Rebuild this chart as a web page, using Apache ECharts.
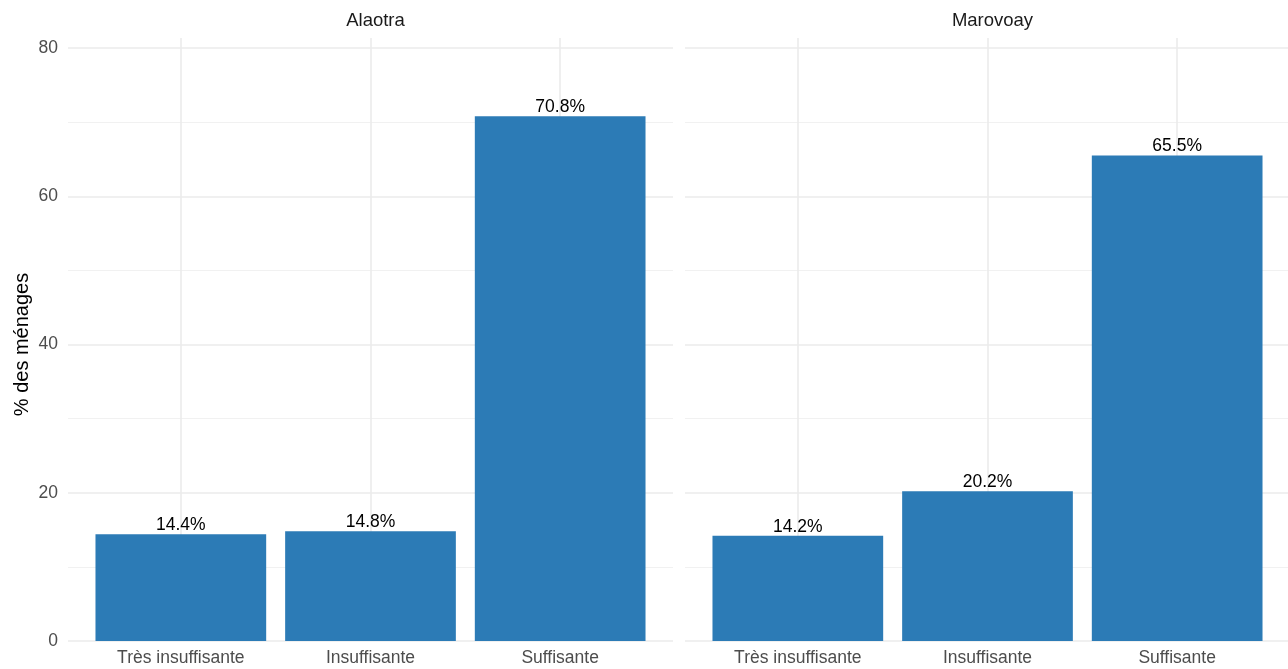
<!DOCTYPE html>
<html>
<head>
<meta charset="utf-8">
<script src="https://cdn.jsdelivr.net/npm/echarts@6/dist/echarts.min.js"></script>
<style>
  html, body { margin: 0; padding: 0; background: #fff; }
  #chart { width: 1288px; height: 669px; }
</style>
</head>
<body>
<div id="chart"></div>
<script>
(function(){
  'use strict';

  // donnees
  var categories = ['Très insuffisante', 'Insuffisante', 'Suffisante'];
  var panels = ['Alaotra', 'Marovoay'];
  var alaotraValues = [14.4, 14.8, 70.8];
  var marovoayValues = [14.2, 20.2, 65.5];
  var yTicks = [0, 20, 40, 60, 80];

  var barColor = '#2c7bb6';
  var gridColor = '#ebebeb';
  var font = 'Liberation Sans, Arial, sans-serif';

  // panel geometry (pixels)
  var top = 48, bottom = 28;          // y=80 at 48, y=0 at 641
  var bgPanels = [{left: 68, right: 615}, {left: 685, right: 0}];
  var barPanels = [{left: 86, width: 569}, {left: 703, width: 569}];

  var myChart = echarts.init(document.getElementById('chart'));

  var grids = [], xAxes = [], yAxes = [], series = [], titles = [];
  var values = [alaotraValues, marovoayValues];

  for (var i = 0; i < 2; i++) {
    // background grid : horizontal lines
    grids.push({left: bgPanels[i].left, right: bgPanels[i].right, top: top, bottom: bottom});
    // bars grid
    grids.push({left: barPanels[i].left, width: barPanels[i].width, top: top, bottom: bottom});

    xAxes.push({gridIndex: 2 * i, type: 'value', min: 0, max: 1, show: false});
    yAxes.push({
      gridIndex: 2 * i, type: 'value', min: yTicks[0], max: yTicks[yTicks.length - 1], interval: 20,
      axisLine: {show: false}, axisTick: {show: false},
      axisLabel: {show: i === 0, color: '#4d4d4d', fontSize: 17.5, fontFamily: font, margin: 10},
      splitLine: {show: true, lineStyle: {color: gridColor, width: 1.6}},
      minorTick: {show: false, splitNumber: 2},
      minorSplitLine: {show: true, lineStyle: {color: '#f1f1f1', width: 1}},
      name: i === 0 ? '% des ménages' : '',
      nameLocation: 'middle', nameGap: 36, nameRotate: 90,
      nameTextStyle: {color: '#000', fontSize: 20, fontFamily: font}
    });

    xAxes.push({
      gridIndex: 2 * i + 1, type: 'category', data: categories,
      axisLine: {show: false},
      axisTick: {show: true, alignWithLabel: true, inside: true, length: 603,
                 lineStyle: {color: gridColor, width: 1.6}},
      axisLabel: {color: '#4d4d4d', fontSize: 17.5, fontFamily: font, margin: 8},
      splitLine: {show: false}
    });
    yAxes.push({gridIndex: 2 * i + 1, type: 'value', min: 0, max: 80, show: false,
                splitLine: {show: false}});

    series.push({
      type: 'bar', xAxisIndex: 2 * i + 1, yAxisIndex: 2 * i + 1,
      data: values[i], barWidth: '90%',
      itemStyle: {color: barColor},
      label: {show: true, position: 'top', distance: 0, color: '#000',
              fontSize: 17.5, fontFamily: font,
              formatter: function (p) { return p.value.toFixed(1) + '%'; }},
      silent: true
    });

    titles.push({
      text: panels[i],
      left: barPanels[i].left + barPanels[i].width / 2, top: 6,
      textAlign: 'center',
      textStyle: {color: '#1a1a1a', fontSize: 18.5, fontWeight: 'normal', fontFamily: font}
    });
  }

  var option = {
    backgroundColor: '#fff',
    animation: false,
    title: titles,
    grid: grids,
    xAxis: xAxes,
    yAxis: yAxes,
    series: series
  };

  myChart.setOption(option);
}());
</script>
</body>
</html>
